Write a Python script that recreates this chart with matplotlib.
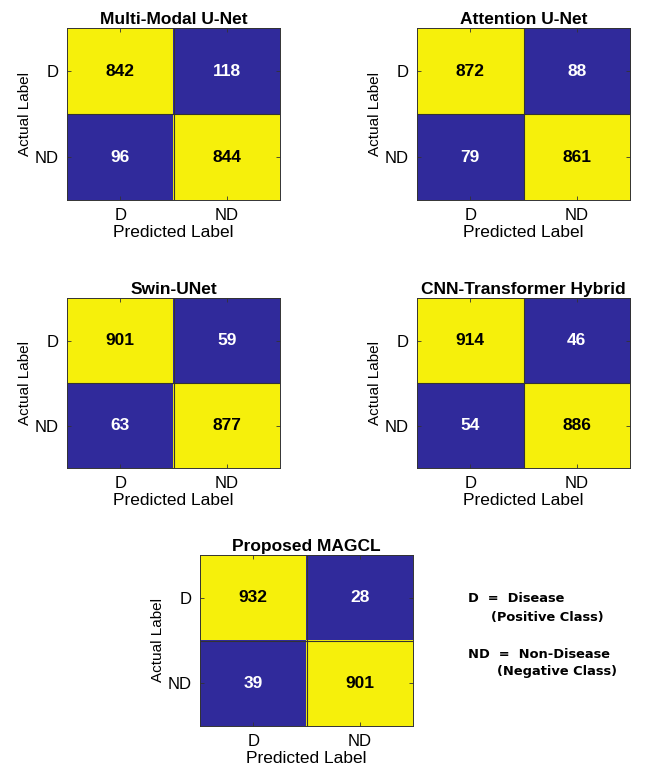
import matplotlib.pyplot as plt
from matplotlib.colors import ListedColormap
import numpy as np

plt.rcParams['font.family'] = ['Liberation Sans', 'DejaVu Sans']

# confusion matrices (rows = actual, cols = predicted)
models = ["Multi-Modal U-Net", "Attention U-Net", "Swin-UNet",
          "CNN-Transformer Hybrid", "Proposed MAGCL"]
multimodal = [[842, 118], [96, 844]]
attention = [[872, 88], [79, 861]]
swin = [[901, 59], [63, 877]]
hybrid = [[914, 46], [54, 886]]
magcl = [[932, 28], [39, 901]]
matrices = [multimodal, attention, swin, hybrid, magcl]
class_labels = ["D", "ND"]

BLUE = "#302a9b"
YELLOW = "#f6f00b"
cmap = ListedColormap([BLUE, YELLOW])


def draw_cm(ax, cm, title):
    cm = np.array(cm)
    thresh = cm.max() / 2
    ax.imshow(cm >= thresh, cmap=cmap, vmin=0, vmax=1, aspect='auto')
    for i in range(cm.shape[0]):
        for j in range(cm.shape[1]):
            color = "black" if cm[i, j] >= thresh else "white"
            ax.text(j, i, str(cm[i, j]), ha='center', va='center',
                    fontsize=12.5, fontweight='bold', color=color)
    # thin separators between cells
    ax.axhline(0.5, color="#333333", lw=0.8)
    ax.axvline(0.5, color="#333333", lw=0.8)
    ax.set_xticks(range(len(class_labels)))
    ax.set_yticks(range(len(class_labels)))
    ax.set_xticklabels(class_labels, fontsize=12)
    ax.set_yticklabels(class_labels, fontsize=12)
    ax.tick_params(direction='in', length=3, width=0.6, top=True, right=True,
                   pad=6, color="#333333")
    ax.set_xlabel("Predicted Label", fontsize=12.5, labelpad=1)
    ax.set_ylabel("Actual Label", fontsize=11, labelpad=2)
    ax.set_title(title, fontsize=12.5, fontweight='bold', pad=3)
    for s in ax.spines.values():
        s.set_linewidth(0.7)
        s.set_color("#333333")


fig = plt.figure(figsize=(6.61, 7.65), dpi=100)
W, H = 661, 765
# axes boxes in pixels: (left, top, right, bottom)
boxes = [(67, 28, 280, 200), (417, 28, 630, 200),
         (67, 298, 280, 468), (417, 298, 630, 468),
         (200, 555, 413, 726)]
for (l, t, r, b), cm, name in zip(boxes, matrices, models):
    ax = fig.add_axes([l / W, 1 - b / H, (r - l) / W, (b - t) / H])
    draw_cm(ax, cm, name)

leg_font = dict(family='DejaVu Sans', fontweight='bold', fontsize=9.4)
fig.text(468 / W, 1 - 599 / H, "D  =  Disease", va='center', **leg_font)
fig.text(491 / W, 1 - 617 / H, "(Positive Class)", va='center', **leg_font)
fig.text(468 / W, 1 - 654 / H, "ND  =  Non-Disease", va='center', **leg_font)
fig.text(497 / W, 1 - 672 / H, "(Negative Class)", va='center', **leg_font)

fig.savefig("out.png", dpi=100, facecolor='white')
